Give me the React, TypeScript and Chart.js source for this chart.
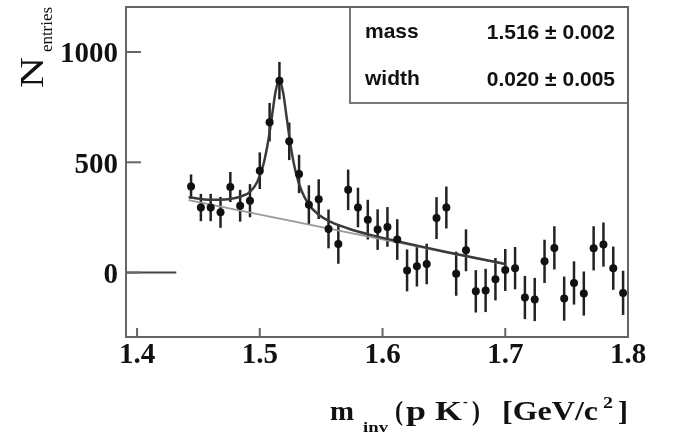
import React, { useEffect, useRef } from "react";
import { Chart, registerables } from "chart.js";

Chart.register(...registerables);

// ---- data ----
const binCenters = [
  1.444, 1.452, 1.46, 1.468, 1.476, 1.484, 1.492, 1.5, 1.508, 1.516,
  1.524, 1.532, 1.54, 1.548, 1.556, 1.564, 1.572, 1.58, 1.588, 1.596,
  1.604, 1.612, 1.62, 1.628, 1.636, 1.644, 1.652, 1.66, 1.668, 1.676,
  1.684, 1.692, 1.7, 1.708, 1.716, 1.724, 1.732, 1.74, 1.748, 1.756,
  1.764, 1.772, 1.78, 1.788, 1.796,
];
const entries = [
  390, 295, 295, 273, 388, 303, 326, 462, 682, 870,
  595, 447, 308, 333, 198, 130, 375, 295, 240, 195,
  207, 150, 10, 29, 39, 247, 295, -5, 101, -85,
  -81, -30, 12, 20, -113, -122, 51, 112, -118, -47,
  -95, 110, 127, 20, -92,
];
const errors = [
  55, 62, 62, 70, 68, 72, 75, 83, 87, 85,
  85, 87, 88, 90, 88, 90, 92, 90, 90, 92,
  90, 92, 95, 92, 92, 95, 95, 100, 95, 96,
  98, 96, 95, 96, 98, 98, 98, 98, 100, 98,
  100, 100, 100, 98, 100,
];
const fitX = [
  1.442, 1.452, 1.462, 1.472, 1.48, 1.486, 1.492, 1.498, 1.503, 1.507,
  1.51, 1.513, 1.516, 1.519, 1.522, 1.525, 1.529, 1.534, 1.54, 1.547,
  1.557, 1.572, 1.59, 1.61, 1.63, 1.65, 1.675, 1.701,
];
const fitY = [
  342, 334, 330, 331, 338, 348, 366, 412, 491, 601,
  712, 824, 872, 817, 699, 580, 462, 371, 309, 267,
  232, 200, 171, 145, 120, 96, 67, 38,
];
const bgX = [1.442, 1.701];
const bgY = [328, 36];
const stubX = [1.391, 1.432];
const stubY = [0, 0];
const xTicks = [1.4, 1.5, 1.6, 1.7, 1.8];
const yTicks = [0, 500, 1000];
const statNames = ["mass", "width"];
const statValues = ["1.516 \u00b1 0.002", "0.020 \u00b1 0.005"];

const W = 674;
const H = 434;
const SERIF = "'Liberation Serif', 'Times New Roman', serif";
const SANS = "'Liberation Sans', Arial, sans-serif";

function fitText(ctx: CanvasRenderingContext2D, text: string, x: number, y: number, width: number) {
  const m = ctx.measureText(text).width;
  ctx.save();
  ctx.translate(x, y);
  ctx.scale(width / m, 1);
  ctx.fillText(text, 0, 0);
  ctx.restore();
}

const rootPlugin = {
  id: "rootStyle",
  beforeDatasetsDraw(chart: any) {
    const ctx = chart.ctx as CanvasRenderingContext2D;
    const xs = chart.scales.x;
    const ys = chart.scales.y;
    ctx.save();
    ctx.strokeStyle = "#222";
    ctx.lineWidth = 2.5;
    binCenters.forEach((x, i) => {
      const px = xs.getPixelForValue(x);
      ctx.beginPath();
      ctx.moveTo(px, ys.getPixelForValue(entries[i] + errors[i]));
      ctx.lineTo(px, ys.getPixelForValue(entries[i] - errors[i]));
      ctx.stroke();
    });
    ctx.restore();
  },
  afterDatasetsDraw(chart: any) {
    const ctx = chart.ctx as CanvasRenderingContext2D;
    const { left, right, top, bottom } = chart.chartArea;
    const xs = chart.scales.x;
    const ys = chart.scales.y;
    ctx.save();
    // tick marks inside frame
    ctx.strokeStyle = "#666";
    ctx.lineWidth = 2;
    yTicks.forEach((v) => {
      const py = ys.getPixelForValue(v);
      ctx.beginPath();
      ctx.moveTo(left, py);
      ctx.lineTo(left + 15, py);
      ctx.stroke();
    });
    xTicks.forEach((v) => {
      const px = xs.getPixelForValue(v);
      ctx.beginPath();
      ctx.moveTo(px, bottom);
      ctx.lineTo(px, bottom - 9);
      ctx.stroke();
    });
    // stats box
    const bx = 350;
    const bb = 103;
    ctx.fillStyle = "#fff";
    ctx.fillRect(bx, top, right - bx, bb - top);
    ctx.strokeStyle = "#777";
    ctx.lineWidth = 2;
    ctx.strokeRect(bx, top, right - bx, bb - top);
    ctx.fillStyle = "#111";
    ctx.font = `bold 21px ${SANS}`;
    ctx.textBaseline = "alphabetic";
    const rows = [38, 85];
    statNames.forEach((n, i) => {
      ctx.textAlign = "left";
      ctx.fillText(n, 365, rows[i]);
      ctx.textAlign = "right";
      ctx.fillText(statValues[i], 615, rows[i] + 1);
    });
    // frame
    ctx.strokeStyle = "#666";
    ctx.lineWidth = 2;
    ctx.strokeRect(left, top, right - left, bottom - top);
    ctx.restore();
  },
  afterDraw(chart: any) {
    const ctx = chart.ctx as CanvasRenderingContext2D;
    ctx.save();
    ctx.fillStyle = "#111";
    ctx.textAlign = "left";
    ctx.textBaseline = "alphabetic";
    // y title: N_entries rotated
    ctx.save();
    ctx.translate(43, 88);
    ctx.rotate(-Math.PI / 2);
    ctx.font = `34px ${SERIF}`;
    fitText(ctx, "N", 0, 0, 31);
    ctx.font = `16px ${SERIF}`;
    fitText(ctx, "entries", 36, 9, 45);
    ctx.restore();
    // x title
    ctx.font = `bold 27px ${SERIF}`;
    fitText(ctx, "m", 330, 420, 24);
    ctx.font = `bold 15px ${SERIF}`;
    fitText(ctx, "inv", 363, 432, 25);
    ctx.font = `bold 27px ${SERIF}`;
    fitText(ctx, "(", 395, 420, 8);
    fitText(ctx, "p", 406, 420, 20);
    fitText(ctx, "K", 435, 420, 27);
    ctx.font = `bold 14px ${SERIF}`;
    ctx.fillText("-", 463, 406);
    ctx.font = `bold 27px ${SERIF}`;
    fitText(ctx, ")", 472, 420, 8);
    fitText(ctx, "[GeV/c", 502, 420, 96);
    ctx.font = `bold 17px ${SERIF}`;
    fitText(ctx, "2", 603, 408, 10);
    ctx.font = `bold 27px ${SERIF}`;
    fitText(ctx, "]", 618, 420, 10);
    ctx.restore();
  },
};

export default function App() {
  const ref = useRef<HTMLCanvasElement | null>(null);
  useEffect(() => {
    document.body.style.margin = "0";
    const canvas = ref.current;
    if (!canvas) return;
    const pts = binCenters.map((x, i) => ({ x, y: entries[i] }));
    const fit = fitX.map((x, i) => ({ x, y: fitY[i] }));
    const bg = bgX.map((x, i) => ({ x, y: bgY[i] }));
    const stub = stubX.map((x, i) => ({ x, y: stubY[i] }));
    const chart = new Chart(canvas, {
      type: "scatter",
      data: {
        datasets: [
          {
            label: "data",
            data: pts,
            pointRadius: 4,
            pointStyle: "circle",
            backgroundColor: "#111",
            borderWidth: 0,
          },
          {
            label: "fit",
            data: fit,
            showLine: true,
            pointRadius: 0,
            borderColor: "#3a3a3a",
            borderWidth: 2.5,
            cubicInterpolationMode: "monotone",
          },
          {
            label: "background",
            data: bg,
            showLine: true,
            pointRadius: 0,
            borderColor: "#9a9a9a",
            borderWidth: 1.8,
          },
          {
            label: "stub",
            data: stub,
            showLine: true,
            pointRadius: 0,
            borderColor: "#444",
            borderWidth: 2,
          },
        ] as any,
      },
      options: {
        responsive: false,
        animation: false,
        devicePixelRatio: 1,
        layout: { padding: { top: 7, right: 46, bottom: 0, left: 0 } },
        plugins: { legend: { display: false }, tooltip: { enabled: false } },
        scales: {
          x: {
            type: "linear",
            min: 1.391,
            max: 1.8,
            grid: { display: false, drawTicks: false },
            border: { display: false },
            afterBuildTicks: (s: any) => {
              s.ticks = xTicks.map((v) => ({ value: v }));
            },
            afterFit: (s: any) => {
              s.height = 97;
              s.paddingLeft = 0;
              s.paddingRight = 0;
            },
            ticks: {
              color: "#111",
              padding: 1,
              maxRotation: 0,
              autoSkip: false,
              font: { family: SERIF, size: 29, weight: "bold" },
              callback: (v: any) => Number(v).toFixed(1),
            },
          },
          y: {
            type: "linear",
            min: -292,
            max: 1204,
            grid: { display: false, drawTicks: false },
            border: { display: false },
            afterBuildTicks: (s: any) => {
              s.ticks = yTicks.map((v) => ({ value: v }));
            },
            afterFit: (s: any) => {
              s.width = 126;
              s.paddingTop = 0;
              s.paddingBottom = 0;
            },
            ticks: {
              color: "#111",
              padding: 8,
              labelOffset: 3,
              autoSkip: false,
              font: { family: SERIF, size: 29, weight: "bold" },
              callback: (v: any) => String(v),
            },
          },
        },
      },
      plugins: [rootPlugin],
    });
    return () => chart.destroy();
  }, []);
  return (
    <div style={{ width: W, height: H, background: "#fff" }}>
      <canvas ref={ref} width={W} height={H} style={{ display: "block" }} />
    </div>
  );
}
